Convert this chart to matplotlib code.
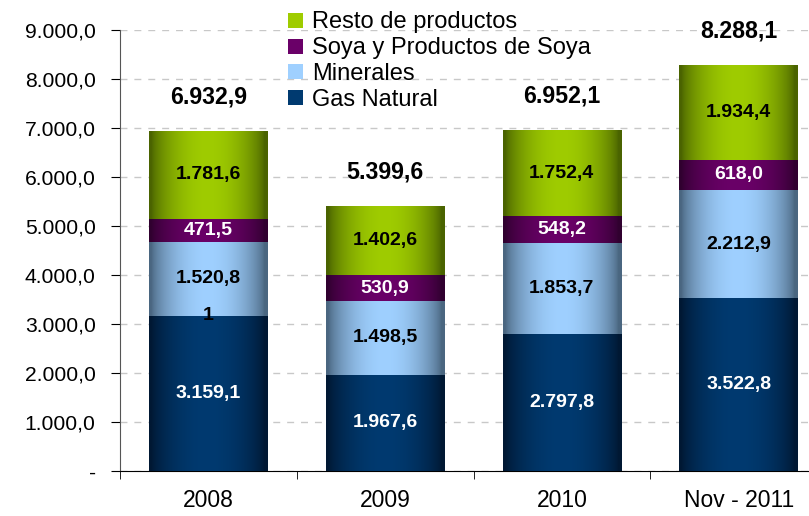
import numpy as np
import matplotlib
matplotlib.use("Agg")
import matplotlib.pyplot as plt
from matplotlib.patches import Patch
from matplotlib.colors import to_rgb

plt.rcParams['font.family'] = ['Liberation Sans', 'DejaVu Sans']

categories = ["2008", "2009", "2010", "Nov - 2011"]
gas_natural = [3159.1, 1967.6, 2797.8, 3522.8]
minerales = [1520.8, 1498.5, 1853.7, 2212.9]
soya = [471.5, 530.9, 548.2, 618.0]
resto = [1781.6, 1402.6, 1752.4, 1934.4]
totals = [6932.9, 5399.6, 6952.1, 8288.1]
series_names = ["Gas Natural", "Minerales", "Soya y Productos de Soya", "Resto de productos"]

series = [gas_natural, minerales, soya, resto]
center_cols = ["#003a70", "#9fd0ff", "#6a0068", "#9fcc00"]
edge_cols = ["#001833", "#4a6680", "#30002f", "#4a6300"]
label_cols = ["white", "black", "white", "black"]

def fmt(v, dec=1):
    s = f"{v:,.{dec}f}"
    return s.replace(",", "X").replace(".", ",").replace("X", ".")

fig = plt.figure(figsize=(8.09, 5.16), dpi=100)
ax = fig.add_axes([120/809, 1-471/516, 707/809, (471-30)/516])
x = np.arange(len(categories))
width = 0.67

t = np.linspace(0, 1, 200)
profile = np.sin(np.pi * np.clip(t * 1.05 - 0.02, 0, 1)) ** 0.7

bottom = np.zeros(len(categories))
for si, vals in enumerate(series):
    vals = np.array(vals)
    bars = ax.bar(x, vals, width, bottom=bottom, color=center_cols[si], zorder=2,
                  linewidth=0)
    c0 = np.array(to_rgb(edge_cols[si]))
    c1 = np.array(to_rgb(center_cols[si]))
    grad = c0[None, :] + (c1 - c0)[None, :] * profile[:, None]
    img = grad[None, :, :]
    for b in bars:
        x0, y0 = b.get_x(), b.get_y()
        w, h = b.get_width(), b.get_height()
        im = ax.imshow(img, extent=[x0, x0 + w, y0, y0 + h], aspect='auto',
                       zorder=3, interpolation='bilinear')
        im.set_clip_path(b)
    for xi, (b0, v) in enumerate(zip(bottom, vals)):
        ax.text(xi, b0 + v / 2, fmt(v), ha='center', va='center',
                color=label_cols[si], fontsize=14, fontweight='bold', zorder=5)
    bottom = bottom + vals

# stray label seen in the reference
ax.text(0, gas_natural[0] + 20, "1", ha='center', va='center', color='black',
        fontsize=14, fontweight='bold', zorder=5)

for xi, tot in enumerate(totals):
    ax.text(xi, tot + 700, fmt(tot), ha='center', va='center', color='black',
            fontsize=16.7, fontweight='bold', zorder=5)

ax.set_xlim(-0.5, 3.5)
ax.set_ylim(0, 9000)
yt = np.arange(0, 9001, 1000)
ax.set_yticks(yt)
ax.set_yticklabels(["-"] + [fmt(v) for v in yt[1:]], fontsize=15.2)
ax.set_xticks(x)
ax.set_xticklabels(categories, fontsize=16.5)
ax.set_xticks(np.arange(-0.5, 4, 1), minor=True)
ax.tick_params(axis='x', which='major', length=0, pad=13)
ax.tick_params(axis='x', which='minor', length=6, direction='out')
ax.tick_params(axis='y', length=6.5, direction='out', pad=11)
ax.grid(axis='y', linestyle=(0, (5, 5)), color='#c8c8c8', linewidth=1, zorder=0)
ax.set_axisbelow(True)
ax.spines['top'].set_visible(False)
ax.spines['right'].set_visible(False)
ax.spines['left'].set_color('#555555')
ax.spines['bottom'].set_color('black')

handles = [Patch(facecolor=center_cols[i], edgecolor='none') for i in range(4)][::-1]
labels = series_names[::-1]
fig.legend(handles, labels, loc='upper left', bbox_to_anchor=(279/809, 1 - 2/516),
           frameon=False, fontsize=17, handlelength=0.6, handleheight=0.6,
           handletextpad=0.4, labelspacing=0.165, borderaxespad=0)

fig.savefig("out.png", dpi=100)
